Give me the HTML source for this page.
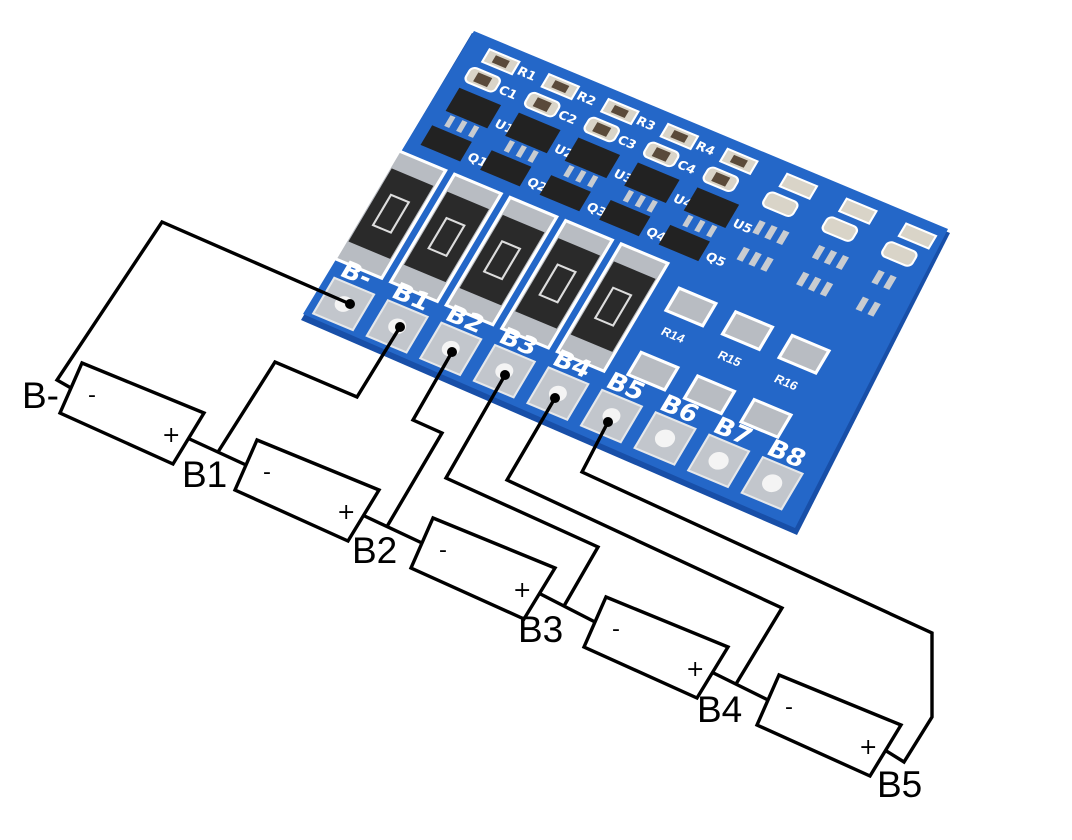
<!DOCTYPE html>
<html><head><meta charset="utf-8"><style>html,body{margin:0;padding:0;background:#fff}svg{display:block}</style></head>
<body>
<svg width="1072" height="840" viewBox="0 0 1072 840" xmlns="http://www.w3.org/2000/svg">
<rect width="1072" height="840" fill="#fff"/>
<!-- PCB -->
<polygon points="472,33 950,233 797,535 301,320" fill="#184fa8"/>
<polygon points="474,31 948,229 795,528 303,314" fill="#2467c8"/>
<g transform="matrix(0.992,0.415,-0.528,0.891,472,33)">
  <!-- top small components -->
  <g fill="#d9d4c8" stroke="#fff" stroke-width="2">
    <rect x="22" y="8" width="30" height="14"/><rect x="82" y="8" width="30" height="14"/><rect x="142" y="8" width="30" height="14"/><rect x="202" y="8" width="30" height="14"/><rect x="262" y="8" width="30" height="14"/><rect x="322" y="8" width="30" height="14"/><rect x="382" y="8" width="30" height="14"/><rect x="442" y="8" width="30" height="14"/>
    <rect x="16" y="30" width="30" height="16" rx="5"/><rect x="76" y="30" width="30" height="16" rx="5"/><rect x="136" y="30" width="30" height="16" rx="5"/><rect x="196" y="30" width="30" height="16" rx="5"/><rect x="256" y="30" width="30" height="16" rx="5"/><rect x="316" y="30" width="30" height="16" rx="5"/><rect x="376" y="30" width="30" height="16" rx="5"/><rect x="436" y="30" width="30" height="16" rx="5"/>
  </g>
  <g fill="#5a4a3a"><rect x="30" y="11" width="14" height="8"/><rect x="90" y="11" width="14" height="8"/><rect x="150" y="11" width="14" height="8"/><rect x="210" y="11" width="14" height="8"/><rect x="270" y="11" width="14" height="8"/><rect x="24" y="33" width="14" height="10"/><rect x="84" y="33" width="14" height="10"/><rect x="144" y="33" width="14" height="10"/><rect x="204" y="33" width="14" height="10"/><rect x="264" y="33" width="14" height="10"/></g>
  <g fill="#fff" font-family="DejaVu Sans, sans-serif" font-size="12" font-weight="bold">
    <text x="55" y="20">R1</text><text x="115" y="20">R2</text><text x="175" y="20">R3</text><text x="235" y="20">R4</text>
    <text x="49" y="44">C1</text><text x="109" y="44">C2</text><text x="169" y="44">C3</text><text x="229" y="44">C4</text>
    <text x="62" y="76">U1</text><text x="122" y="76">U2</text><text x="182" y="76">U3</text><text x="242" y="76">U4</text><text x="302" y="76">U5</text>
    <text x="56" y="116">Q1</text><text x="116" y="116">Q2</text><text x="176" y="116">Q3</text><text x="236" y="116">Q4</text><text x="296" y="116">Q5</text>
  </g>
  <!-- ICs -->
  <g fill="#222">
    <rect x="16" y="54" width="42" height="26"/><rect x="76" y="54" width="42" height="26"/><rect x="136" y="54" width="42" height="26"/><rect x="196" y="54" width="42" height="26"/><rect x="256" y="54" width="42" height="26"/>
    <rect x="12" y="98" width="40" height="22"/><rect x="72" y="98" width="40" height="22"/><rect x="132" y="98" width="40" height="22"/><rect x="192" y="98" width="40" height="22"/><rect x="252" y="98" width="40" height="22"/>
  </g>
  <g fill="#c9ccd0">
    <rect x="22" y="82" width="5" height="12"/><rect x="34" y="82" width="5" height="12"/><rect x="46" y="82" width="5" height="12"/><rect x="82" y="82" width="5" height="12"/><rect x="94" y="82" width="5" height="12"/><rect x="106" y="82" width="5" height="12"/><rect x="142" y="82" width="5" height="12"/><rect x="154" y="82" width="5" height="12"/><rect x="166" y="82" width="5" height="12"/><rect x="202" y="82" width="5" height="12"/><rect x="214" y="82" width="5" height="12"/><rect x="226" y="82" width="5" height="12"/><rect x="262" y="82" width="5" height="12"/><rect x="274" y="82" width="5" height="12"/><rect x="286" y="82" width="5" height="12"/>
    <rect x="322" y="60" width="6" height="14"/><rect x="334" y="60" width="6" height="14"/><rect x="346" y="60" width="6" height="14"/><rect x="322" y="90" width="6" height="14"/><rect x="334" y="90" width="6" height="14"/><rect x="346" y="90" width="6" height="14"/>
    <rect x="382" y="60" width="6" height="14"/><rect x="394" y="60" width="6" height="14"/><rect x="406" y="60" width="6" height="14"/><rect x="382" y="90" width="6" height="14"/><rect x="394" y="90" width="6" height="14"/><rect x="406" y="90" width="6" height="14"/>
    <rect x="442" y="60" width="6" height="14"/><rect x="454" y="60" width="6" height="14"/><rect x="442" y="90" width="6" height="14"/><rect x="454" y="90" width="6" height="14"/>
  </g>
  <!-- big resistors -->
  <g>
    <rect x="-4" y="132" width="50" height="124" fill="#fff"/><rect x="-1" y="135" width="44" height="118" fill="#b8bcc2"/><rect x="0" y="152" width="42" height="82" fill="#2a2a2a"/>
    <rect x="52" y="132" width="50" height="124" fill="#fff"/><rect x="55" y="135" width="44" height="118" fill="#b8bcc2"/><rect x="56" y="152" width="42" height="82" fill="#2a2a2a"/>
    <rect x="108" y="132" width="50" height="124" fill="#fff"/><rect x="111" y="135" width="44" height="118" fill="#b8bcc2"/><rect x="112" y="152" width="42" height="82" fill="#2a2a2a"/>
    <rect x="164" y="132" width="50" height="124" fill="#fff"/><rect x="167" y="135" width="44" height="118" fill="#b8bcc2"/><rect x="168" y="152" width="42" height="82" fill="#2a2a2a"/>
    <rect x="220" y="132" width="50" height="124" fill="#fff"/><rect x="223" y="135" width="44" height="118" fill="#b8bcc2"/><rect x="224" y="152" width="42" height="82" fill="#2a2a2a"/>
  </g>
  <g fill="none" stroke="#ddd" stroke-width="2"><rect x="12" y="176" width="18" height="34"/><rect x="68" y="176" width="18" height="34"/><rect x="124" y="176" width="18" height="34"/><rect x="180" y="176" width="18" height="34"/><rect x="236" y="176" width="18" height="34"/></g>
  <!-- R14-16 pads -->
  <g fill="#fff"><rect x="288" y="150" width="40" height="28"/><rect x="288" y="222" width="40" height="28"/><rect x="345" y="150" width="40" height="28"/><rect x="345" y="222" width="40" height="28"/><rect x="402" y="150" width="40" height="28"/><rect x="402" y="222" width="40" height="28"/></g>
  <g fill="#b8bcc2"><rect x="291" y="153" width="34" height="22"/><rect x="291" y="225" width="34" height="22"/><rect x="348" y="153" width="34" height="22"/><rect x="348" y="225" width="34" height="22"/><rect x="405" y="153" width="34" height="22"/><rect x="405" y="225" width="34" height="22"/></g>
  <g fill="#fff" font-family="Liberation Sans, sans-serif" font-size="12" font-weight="bold"><text x="296" y="200">R14</text><text x="353" y="200">R15</text><text x="410" y="200">R16</text></g>
  <!-- pad labels -->
  <g fill="#fff" font-family="DejaVu Sans, sans-serif" font-size="24" font-weight="bold">
    <text x="8" y="268">B-</text><text x="60" y="268">B1</text><text x="114" y="268">B2</text><text x="168" y="268">B3</text><text x="222" y="268">B4</text><text x="276" y="268">B5</text><text x="330" y="268">B6</text><text x="384" y="268">B7</text><text x="438" y="268">B8</text>
  </g>
  <!-- pads -->
  <g fill="#c2c6cc" stroke="#e6e8ea" stroke-width="2">
    <rect x="6" y="272" width="40" height="40"/><rect x="60" y="272" width="40" height="40"/><rect x="114" y="272" width="40" height="40"/><rect x="168" y="272" width="40" height="40"/><rect x="222" y="272" width="40" height="40"/><rect x="276" y="272" width="40" height="40"/><rect x="330" y="272" width="40" height="40"/><rect x="384" y="272" width="40" height="40"/><rect x="438" y="272" width="40" height="40"/>
  </g>
  <g fill="#f4f4f4"><circle cx="26" cy="292" r="8"/><circle cx="80" cy="292" r="8"/><circle cx="134" cy="292" r="8"/><circle cx="188" cy="292" r="8"/><circle cx="242" cy="292" r="8"/><circle cx="296" cy="292" r="8"/><circle cx="350" cy="292" r="9"/><circle cx="404" cy="292" r="9"/><circle cx="458" cy="292" r="9"/></g>
</g>
<!-- wiring -->
<g fill="none" stroke="#000" stroke-width="3.4" stroke-linejoin="miter">
  <polygon points="82,363 204,413 173,464 60,413"/>
  <polygon points="257,440 379,490 348,541 235,490"/>
  <polygon points="433,518 555,568 524,619 411,568"/>
  <polygon points="606,597 728,647 697,698 584,647"/>
  <polygon points="779,675 901,725 870,776 757,725"/>
  <polyline points="71,388 57,380 162,222 350,304"/>
  <line x1="188.5" y1="438.5" x2="246" y2="465"/>
  <line x1="363.5" y1="515.5" x2="422" y2="543"/>
  <line x1="539.5" y1="593.5" x2="595" y2="622"/>
  <line x1="712.5" y1="672.5" x2="768" y2="700"/>
  <polyline points="885.5,750.5 904,762 932,717 932,633 582,472 608,422"/>
  <polyline points="218,452 275,362 357,397 400,327"/>
  <polyline points="387,526.5 442,433 413,420 452,352"/>
  <polyline points="564,606 598,547 446,478 505,375"/>
  <polyline points="736,684 782,608 507,480 555,398"/>
</g>
<g fill="#000"><circle cx="350" cy="304" r="5"/><circle cx="400" cy="327" r="5"/><circle cx="452" cy="352" r="5"/><circle cx="505" cy="375" r="5"/><circle cx="555" cy="398" r="5"/><circle cx="608" cy="422" r="5"/></g>
<g fill="#000" font-family="DejaVu Sans, sans-serif" font-size="22">
  <text x="88" y="402">-</text><text x="162" y="442">+</text>
  <text x="263" y="479">-</text><text x="337" y="519">+</text>
  <text x="439" y="557">-</text><text x="513" y="597">+</text>
  <text x="612" y="636">-</text><text x="686" y="676">+</text>
  <text x="785" y="714">-</text><text x="859" y="754">+</text>
</g>
<g fill="#000" font-family="Liberation Sans, sans-serif" font-size="37">
  <text x="22" y="408">B-</text><text x="182" y="487">B1</text><text x="352" y="563">B2</text><text x="518" y="642">B3</text><text x="697" y="722">B4</text><text x="877" y="797">B5</text>
</g>
</svg>
</body></html>
